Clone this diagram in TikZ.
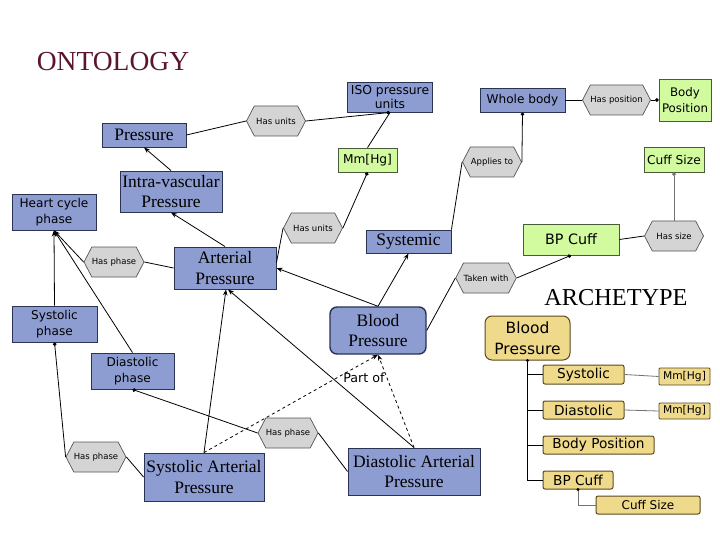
\documentclass[tikz,border=0pt]{standalone}
\usepackage{fontspec}
\setmainfont{Liberation Serif}
\newfontfamily\dv{DejaVu Sans}
\usetikzlibrary{arrows.meta,shapes.symbols,calc}
\definecolor{blueC}{HTML}{8E9DD1}
\definecolor{blueD}{HTML}{2A3352}
\definecolor{greenC}{HTML}{D2FA9E}
\definecolor{greenD}{HTML}{4A5A3A}
\definecolor{yelC}{HTML}{EFD98B}
\definecolor{yelD}{HTML}{5A4A20}
\definecolor{hexC}{HTML}{D4D4D4}
\definecolor{hexD}{HTML}{555555}
\definecolor{maroon}{HTML}{5A1530}
\tikzset{
  box/.style={draw, inner sep=0pt, align=center, line width=0.9pt},
  bluebox/.style={box, fill=blueC, draw=blueD, font=\fontsize{17.5}{20.5}\selectfont},
  blues/.style={box, fill=blueC, draw=blueD, font=\dv\fontsize{12.1}{16}\selectfont},
  greenbox/.style={box, fill=greenC, draw=greenD, line width=0.7pt, font=\dv\fontsize{12.2}{15}\selectfont},
  yelbox/.style={box, fill=yelC, draw=yelD, line width=1pt, rounded corners=2pt, font=\dv\fontsize{13.7}{16}\selectfont},
  hexa/.style={shape=signal, signal to=west and east, signal pointer angle=125, draw=hexD, fill=hexC, inner sep=0pt, line width=0.7pt, font=\dv\fontsize{8.5}{10}\selectfont, minimum width=59pt, minimum height=30pt},
  conn/.style={line width=0.8pt, black},
  arr/.style={conn, -{Stealth[length=6pt,width=4.5pt]}},
  dot/.style={conn, -{Circle[length=3.6pt]}},
  gconn/.style={line width=0.8pt, black!55},
}
\begin{document}
\begin{tikzpicture}[x=1pt,y=-1pt]
\useasboundingbox[fill=white] (0,0) rectangle (720,540);
% titles
\node[font=\fontsize{27.5}{30}\selectfont, text=maroon] (ontt) at (113,62) {ONTOLOGY};
\node[font=\fontsize{24.3}{27}\selectfont] (arct) at (616,298) {ARCHETYPE};
% ontology nodes
\node[bluebox, minimum width=84pt, minimum height=24pt] (pres) at (144,135) {Pressure};
\node[bluebox, minimum width=102pt, minimum height=41pt] (intra) at (171,191.5) {Intra-vascular\\Pressure};
\node[blues, minimum width=84pt, minimum height=36pt] (heart) at (54,212) {Heart cycle\\phase};
\node[bluebox, minimum width=102pt, minimum height=42pt] (art) at (225,268) {Arterial\\Pressure};
\node[hexa] (hp1) at (114,262) {Has phase};
\node[hexa] (hu1) at (276,121) {Has units};
\node[blues, minimum width=85pt, minimum height=30pt, font=\dv\fontsize{12.3}{13.5}\selectfont] (iso) at (390,97) {ISO pressure\\units};
\node[greenbox, minimum width=59pt, minimum height=24pt] (mm) at (367.5,160) {Mm[Hg]};
\node[hexa] (hu2) at (313,228) {Has units};
\node[bluebox, minimum width=85pt, minimum height=23pt] (sys) at (408.5,241.5) {Systemic};
\node[hexa] (appl) at (492,162) {Applies to};
\node[blues, minimum width=85pt, minimum height=24pt] (whole) at (522.5,100) {Whole body};
\node[hexa, minimum width=57pt] (hpos) at (616.5,100) {Has position};
\node[greenbox, minimum width=52pt, minimum height=42pt, font=\dv\fontsize{11.8}{16}\selectfont] (bodyp) at (685,100) {Body\\Position};
\node[greenbox, minimum width=60pt, minimum height=25pt] (cuffs) at (674,159.5) {Cuff Size};
\node[greenbox, minimum width=96pt, minimum height=31pt, font=\dv\fontsize{14.3}{16}\selectfont] (bpcuff) at (571,239.5) {BP Cuff};
\node[hexa] (hsize) at (674,236) {Has size};
\node[hexa] (taken) at (486,278) {Taken with};
\node[bluebox, rounded corners=7pt, line width=1.4pt, minimum width=96pt, minimum height=47pt] (bp) at (378,330.5) {Blood\\Pressure};
\node[blues, minimum width=85pt, minimum height=36pt] (sysph) at (54.5,324) {Systolic\\phase};
\node[blues, minimum width=83pt, minimum height=36pt] (diaph) at (132.5,371) {Diastolic\\phase};
\node[hexa] (hp2) at (96,457) {Has phase};
\node[hexa] (hp3) at (288,433) {Has phase};
\node[bluebox, minimum width=120pt, minimum height=48pt] (sap) at (204,477) {Systolic Arterial\\Pressure};
\node[bluebox, minimum width=132pt, minimum height=47pt] (dap) at (414,471.5) {Diastolic Arterial\\Pressure};
% archetype nodes
\node[yelbox, rounded corners=7pt, minimum width=85pt, minimum height=44pt, font=\dv\fontsize{15.5}{21}\selectfont] (abp) at (527.5,338) {Blood\\Pressure};
\node[yelbox, minimum width=81pt, minimum height=19pt] (asys) at (583.5,374.5) {Systolic};
\node[yelbox, minimum width=51pt, minimum height=17pt, rounded corners=1pt, line width=0.8pt, font=\dv\fontsize{10.7}{12}\selectfont] (amm1) at (684.5,376.5) {Mm[Hg]};
\node[yelbox, minimum width=81pt, minimum height=18pt] (adia) at (583.5,410) {Diastolic};
\node[yelbox, minimum width=51pt, minimum height=16pt, rounded corners=1pt, line width=0.8pt, font=\dv\fontsize{10.7}{12}\selectfont] (amm2) at (684.5,411) {Mm[Hg]};
\node[yelbox, minimum width=111pt, minimum height=18pt] (abody) at (598.5,445) {Body Position};
\node[yelbox, minimum width=70pt, minimum height=18pt] (acuff) at (578,480) {BP Cuff};
\node[yelbox, minimum width=104pt, minimum height=18pt, font=\dv\fontsize{12}{14}\selectfont] (acsize) at (648,505) {Cuff Size};
% ontology connectors
\draw[conn] (pres.east) -- (hu1.west);
\draw[dot] (hu1.east) -- (iso.south);
\draw[conn] (mm.north) -- (iso.south);
\draw[dot] (hu2.east) -- (mm.south);
\draw[conn] (hu2.west) -- (art.6);
\draw[arr] (intra.north) -- (pres.south);
\draw[arr] (art.north) -- (intra.south);
\draw[conn] (art.west) -- (hp1.east);
\draw[arr] (hp1.west) -- (heart.south);
\draw[arr] (sysph.north) -- (heart.south);
\draw[arr] (diaph.north) -- (heart.south);
\draw[dot] (hp2.west) -- (sysph.south);
\draw[conn] (hp2.east) -- (sap.west);
\draw[dot] (hp3.west) -- (diaph.south);
\draw[conn] (hp3.east) -- (dap.west);
\draw[arr] (sap.north) -- ($(art.south)+(1,0)$);
\draw[arr] (dap.north) -- ($(art.south)+(3,0)$);
\draw[arr] (bp.north) -- (art.east);
\draw[arr] (bp.north) -- (sys.south);
\draw[conn] (bp.east) -- (taken.west);
\draw[dot] (taken.east) -- (bpcuff.south);
\draw[conn] (bpcuff.east) -- (hsize.west);
\draw[gconn, -{Circle[length=3.6pt]}] (hsize.north) -- (cuffs.south);
\draw[conn] (sys.north east) -- (appl.west);
\draw[dot] (appl.east) -- (whole.south);
\draw[conn] (whole.east) -- (hpos.west);
\draw[dot] (hpos.east) -- (bodyp.west);
\draw[arr, dashed] (sap.north) -- (bp.south);
\draw[arr, dashed] (dap.north) -- (bp.south);
\node[font=\dv\fontsize{12.7}{14}\selectfont, fill=white, inner sep=0.5pt] (partof) at (364,378) {Part of};
% archetype connectors
\draw[conn] (abp.south) |- (asys.west);
\draw[conn] (abp.south) |- (adia.west);
\draw[conn] (abp.south) |- (abody.west);
\draw[conn] (abp.south) |- (acuff.west);
\fill (abp.south) circle (1.6pt);
\draw[gconn] (asys.east) -- (amm1.west);
\draw[gconn] (adia.east) -- (amm2.west);
\draw[gconn] (acuff.south) |- (acsize.west);
\fill (acuff.south) circle (1.6pt);
\end{tikzpicture}
\end{document}
